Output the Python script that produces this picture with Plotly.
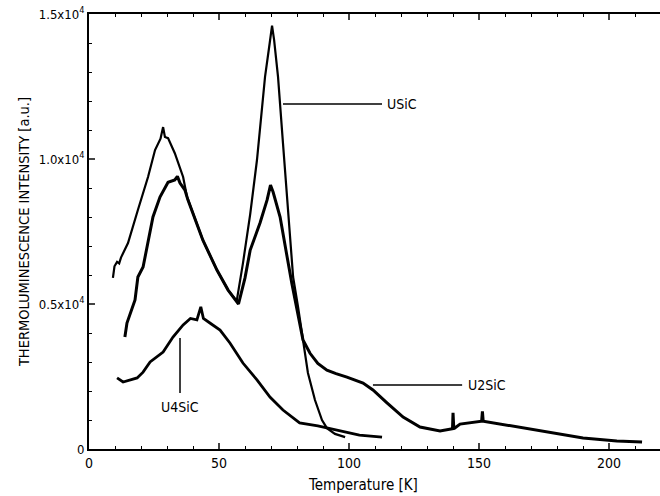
import plotly.graph_objects as go

# ---- data ----
usic_T = [9.2, 9.8, 10.8, 11.6, 12.3, 15.0, 18.8, 22.7, 25.4, 27.5, 28.5, 29.2, 30.4, 33.0, 36.2, 37.7,
          43.8, 49.2, 53.5, 56.8, 59.2, 62.0, 64.6, 67.7, 69.5, 70.4, 71.2, 72.7, 74.6, 76.5, 78.5,
          80.4, 82.3, 84.2, 86.9, 89.6, 91.5, 94.6, 98.5]
usic_I = [5900, 6300, 6450, 6400, 6600, 7100, 8240, 9380, 10310, 10700, 11100, 10760, 10720, 10200, 9380, 8690,
          7200, 6170, 5480, 5100, 6400, 8100, 9965, 12830, 14000, 14600, 14100, 12830, 10550, 8240, 5930,
          4900, 3760, 2620, 1690, 1000, 720, 520, 410]

u2sic_T = [13.8, 14.6, 17.7, 18.8, 20.8, 24.6, 27.3, 30.4, 33.0, 34.0, 35.0, 36.9, 38.0,
           43.8, 49.2, 53.5, 57.5, 60.0, 62.0, 65.8, 68.5, 69.8, 70.8, 73.5, 76.2, 78.0,
           82.3, 85.0, 88.0, 91.5, 95.0, 99.2, 105.4, 109.2, 114.6, 120.8, 127.3, 135.0, 139.8, 140.0, 140.3,
           142.7, 151.0, 151.3, 151.6, 164.6, 177.3, 190.0, 203.0, 212.7]
u2sic_I = [3860, 4345, 5140, 5930, 6275, 8000, 8690, 9200, 9276, 9400, 9170, 8930, 8600,
           7200, 6170, 5480, 5000, 5900, 6860, 7800, 8590, 9100, 8860, 8000, 6620, 5720,
           3760, 3300, 2950, 2720, 2600, 2480, 2275, 2035, 1590, 1100, 760, 620, 700, 1250, 700,
           860, 960, 1300, 960, 760, 550, 380, 275, 240]

u4sic_T = [10.8, 13.1, 18.5, 20.8, 23.5, 28.5, 32.3, 36.2, 39.0, 41.5, 43.0, 44.0, 46.5, 50.4,
           54.2, 59.2, 64.6, 69.6, 74.6, 81.0, 88.0, 95.4, 104.0, 112.7]
u4sic_I = [2450, 2310, 2450, 2650, 3000, 3345, 3860, 4280, 4500, 4450, 4900, 4500, 4345, 4100,
           3655, 2965, 2380, 1790, 1345, 900, 800, 655, 480, 410]

x_ticks = [0, 50, 100, 150, 200]
y_ticks = [0, 5000, 10000, 15000]
y_ticktext = ["0", "0.5x10<sup>4</sup>", "1.0x10<sup>4</sup>", "1.5x10<sup>4</sup>"]

# label positions (data units)
usic_label = dict(x0=74.6, x1=112.7, y=11900)
u2sic_label = dict(x0=109.2, x1=143.5, y=2207)
u4sic_label = dict(x=35.0, y0=1930, y1=3830)

FONT = "Liberation Sans Narrow, DejaVu Sans Condensed, Arial Narrow, Liberation Sans, sans-serif"

fig = go.Figure()
fig.add_trace(go.Scatter(x=usic_T, y=usic_I, mode="lines", line=dict(color="black", width=2.2)))
fig.add_trace(go.Scatter(x=u2sic_T, y=u2sic_I, mode="lines", line=dict(color="black", width=3)))
fig.add_trace(go.Scatter(x=u4sic_T, y=u4sic_I, mode="lines", line=dict(color="black", width=2.8)))

# leader lines
fig.add_shape(type="line", x0=usic_label["x0"], x1=usic_label["x1"], y0=usic_label["y"], y1=usic_label["y"],
              line=dict(color="black", width=1.5))
fig.add_shape(type="line", x0=u2sic_label["x0"], x1=u2sic_label["x1"], y0=u2sic_label["y"], y1=u2sic_label["y"],
              line=dict(color="black", width=1.5))
fig.add_shape(type="line", x0=u4sic_label["x"], x1=u4sic_label["x"], y0=u4sic_label["y0"], y1=u4sic_label["y1"],
              line=dict(color="black", width=1.5))

fig.add_annotation(x=usic_label["x1"], y=usic_label["y"], text="USiC", showarrow=False,
                   xanchor="left", xshift=3, font=dict(size=14, color="black", family=FONT))
fig.add_annotation(x=u2sic_label["x1"], y=u2sic_label["y"], text="U2SiC", showarrow=False,
                   xanchor="left", xshift=4, font=dict(size=14, color="black", family=FONT))
fig.add_annotation(x=u4sic_label["x"], y=u4sic_label["y0"], text="U4SiC", showarrow=False,
                   yanchor="top", yshift=-4, font=dict(size=14, color="black", family=FONT))

fig.add_annotation(x=0.48, y=-0.058, xref="paper", yref="paper", text="Temperature [K]", showarrow=False,
                   yanchor="top", font=dict(size=15, color="black", family=FONT))

fig.update_xaxes(range=[0, 219.6], tickvals=x_ticks, ticks="inside", ticklen=6, tickwidth=1.5,
                 showline=True, linecolor="black", linewidth=2, mirror="ticks", showgrid=False, zeroline=False,
                 tickfont=dict(size=14, color="black", family=FONT),
                 minor=dict(dtick=10, ticks="inside", ticklen=3, tickcolor="black", tickwidth=1))
fig.update_yaxes(range=[0, 15000], tickvals=y_ticks, ticktext=y_ticktext, ticks="inside", ticklen=6,
                 tickwidth=1.5, showline=True, linecolor="black", linewidth=2, mirror=False, showgrid=False,
                 zeroline=False, tickfont=dict(size=13, color="black", family=FONT),
                 minor=dict(dtick=1000, ticks="inside", ticklen=3, tickcolor="black", tickwidth=1),
                 title=dict(text="THERMOLUMINESCENCE INTENSITY [a.u.]", standoff=6,
                            font=dict(size=14.5, color="black", family=FONT)))

fig.update_layout(width=660, height=496, margin=dict(l=89, r=0, t=14, b=47),
                  paper_bgcolor="white", plot_bgcolor="white", showlegend=False,
                  font=dict(family=FONT, color="black"))

fig.write_html("out.html", config={"displayModeBar": False},
               post_script="document.body.style.margin='0px';document.body.style.padding='0px';")
